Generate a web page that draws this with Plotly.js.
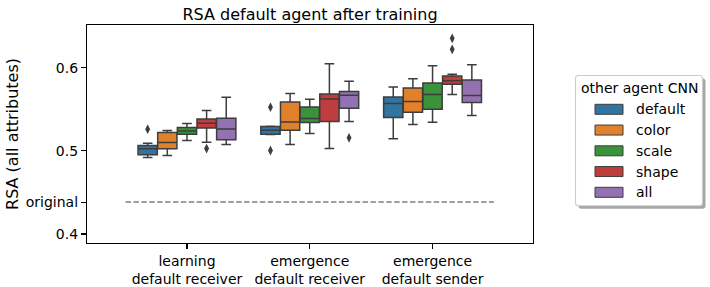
<!DOCTYPE html>
<html>
<head>
<meta charset="utf-8">
<script src="https://cdn.plot.ly/plotly-3.0.1.min.js"></script>
<style>html,body{margin:0;padding:0;background:#fff;}#chart{width:710px;height:287px;}</style>
</head>
<body>
<div id="chart"></div>
<script>
// ---- data ----
const categories = ['learning<br>default receiver', 'emergence<br>default receiver', 'emergence<br>default sender'];
const hues = ['default', 'color', 'scale', 'shape', 'all'];
const hueColors = ['#3274a1', '#e1812c', '#3a923a', '#c03d3e', '#9372b2'];
const legendTitle = 'other agent CNN';

// per hue: values for the three categories
const lowerFence = [
  [0.4920, 0.5195, 0.5144],
  [0.4944, 0.5076, 0.5316],
  [0.5124, 0.5208, 0.5344],
  [0.5104, 0.5028, 0.5676],
  [0.5076, 0.5352, 0.5424]
];
const q1Values = [
  [0.4952, 0.5200, 0.5400],
  [0.5024, 0.5249, 0.5464],
  [0.5200, 0.5340, 0.5500],
  [0.5276, 0.5352, 0.5800],
  [0.5132, 0.5513, 0.5580]
];
const medianValues = [
  [0.5024, 0.5249, 0.5568],
  [0.5100, 0.5348, 0.5592],
  [0.5240, 0.5388, 0.5676],
  [0.5333, 0.5624, 0.5844],
  [0.5264, 0.5669, 0.5664]
];
const q3Values = [
  [0.5064, 0.5292, 0.5648],
  [0.5220, 0.5588, 0.5756],
  [0.5280, 0.5528, 0.5816],
  [0.5384, 0.5684, 0.5900],
  [0.5392, 0.5712, 0.5852]
];
const upperFence = [
  [0.5092, 0.5295, 0.5768],
  [0.5244, 0.5688, 0.5868],
  [0.5328, 0.5621, 0.6024],
  [0.5484, 0.6048, 0.5921],
  [0.5645, 0.5837, 0.6036]
];
// outliers
const outlierHue = [0, 0, 0, 3, 3, 3, 4];
const outlierCat = [0, 1, 1, 0, 2, 2, 1];
const outlierValue = [0.5260, 0.5525, 0.5004, 0.5028, 0.6353, 0.6221, 0.5156];

const originalValue = 0.4384;
const originalSpan = [-0.5, 2.5];
const yTickVals = [0.4, originalValue, 0.5, 0.6];
const yTickText = ['0.4', 'original', '0.5', '0.6'];

// ---- layout helpers (seaborn-style dodge) ----
const groupWidth = 0.8;
const slot = groupWidth / hues.length;
const boxWidth = slot * 0.98;
const pos = (c, h) => c + (h - (hues.length - 1) / 2) * slot;
const lineGray = '#3d3d3d';

const traces = [];
traces.push({
  type: 'scatter', mode: 'lines',
  x: originalSpan, y: [originalValue, originalValue],
  line: {color: '#808080', width: 1.5, dash: '5.5px,2.4px'},
  showlegend: false, hoverinfo: 'skip'
});
hues.forEach((name, h) => {
  traces.push({
    type: 'box', name: name, orientation: 'v',
    x: categories.map((_, c) => pos(c, h)),
    q1: q1Values[h], median: medianValues[h], q3: q3Values[h],
    lowerfence: lowerFence[h], upperfence: upperFence[h],
    width: boxWidth, whiskerwidth: 0.5,
    fillcolor: hueColors[h],
    line: {color: lineGray, width: 1.5},
    boxpoints: false, hoverinfo: 'skip', showlegend: false
  });
});
traces.push({
  type: 'scatter', mode: 'markers',
  x: outlierValue.map((_, i) => pos(outlierCat[i], outlierHue[i])),
  y: outlierValue,
  marker: {symbol: 'diamond-tall', size: 7, color: lineGray, line: {width: 0}},
  showlegend: false, hoverinfo: 'skip'
});

// ---- matplotlib-style legend (frame with shadow) built from hues/hueColors ----
const M = {l: 87, r: 177, t: 25, b: 44};
const W = 710, H = 287;
const pw = W - M.l - M.r, ph = H - M.t - M.b;
const px = v => (v - M.l) / pw;
const py = v => 1 - (v - M.t) / ph;
function roundRect(x0, y0, x1, y1, r) {
  const P = (a, b) => px(a).toFixed(5) + ',' + py(b).toFixed(5);
  return 'M' + P(x0 + r, y0) + ' L' + P(x1 - r, y0) + ' Q' + P(x1, y0) + ' ' + P(x1, y0 + r) +
         ' L' + P(x1, y1 - r) + ' Q' + P(x1, y1) + ' ' + P(x1 - r, y1) +
         ' L' + P(x0 + r, y1) + ' Q' + P(x0, y1) + ' ' + P(x0, y1 - r) +
         ' L' + P(x0, y0 + r) + ' Q' + P(x0, y0) + ' ' + P(x0 + r, y0) + ' Z';
}
const LG = {x0: 575.5, x1: 702.5, y0: 75.5, y1: 205.7, titleY: 88.3, firstY: 109.3, step: 20.75,
            patchX0: 595, patchX1: 623, patchH: 10, textX: 634};
const shapes = [
  {type: 'path', xref: 'paper', yref: 'paper', layer: 'above',
   path: roundRect(LG.x0 + 3, LG.y0 + 3, LG.x1 + 3, LG.y1 + 3, 3),
   fillcolor: '#a6a6a6', line: {width: 0}},
  {type: 'path', xref: 'paper', yref: 'paper', layer: 'above',
   path: roundRect(LG.x0, LG.y0, LG.x1, LG.y1, 3),
   fillcolor: '#ffffff', line: {color: '#cccccc', width: 1.1}}
];
const annotations = [
  {xref: 'paper', yref: 'paper', x: px((LG.x0 + LG.x1) / 2), y: py(LG.titleY), xanchor: 'center', yanchor: 'middle',
   text: legendTitle, showarrow: false, font: {family: 'DejaVu Sans, sans-serif', size: 14, color: '#000'}}
];
hues.forEach((name, h) => {
  const cy = LG.firstY + h * LG.step;
  shapes.push({type: 'rect', xref: 'paper', yref: 'paper', layer: 'above',
    x0: px(LG.patchX0), x1: px(LG.patchX1), y0: py(cy - LG.patchH / 2), y1: py(cy + LG.patchH / 2),
    fillcolor: hueColors[h], line: {color: lineGray, width: 1}});
  annotations.push({xref: 'paper', yref: 'paper', x: px(LG.textX), y: py(cy), xanchor: 'left', yanchor: 'middle',
    text: name, showarrow: false, font: {family: 'DejaVu Sans, sans-serif', size: 14, color: '#000'}});
});

const font = {family: 'DejaVu Sans, sans-serif', size: 14, color: '#000'};
const layout = {
  width: W, height: H,
  margin: {l: M.l, r: M.r, t: M.t, b: M.b, pad: 0},
  paper_bgcolor: '#fff', plot_bgcolor: '#fff',
  font: font,
  hovermode: false,
  showlegend: false,
  title: {text: 'RSA default agent after training', font: {family: font.family, size: 16, color: '#000'},
          x: 0.5, xref: 'paper', xanchor: 'center', y: 1, yref: 'paper', yanchor: 'bottom', pad: {b: 5}},
  xaxis: {
    range: [-0.814, 2.818], tickvals: [0, 1, 2], ticktext: categories,
    showgrid: false, zeroline: false, showline: true, mirror: true, linecolor: '#000', linewidth: 1.1,
    ticks: 'outside', ticklen: 5, tickwidth: 1.1, tickcolor: '#000', tickfont: font
  },
  yaxis: {
    range: [0.3892, 0.6513], tickvals: yTickVals, ticktext: yTickText,
    showgrid: false, zeroline: false, showline: true, mirror: true, linecolor: '#000', linewidth: 1.1,
    ticks: 'outside', ticklen: 5, tickwidth: 1.1, tickcolor: '#000', tickfont: font,
    title: {text: 'RSA (all attributes)', font: {family: font.family, size: 16, color: '#000'}, standoff: 3}
  },
  shapes: shapes,
  annotations: annotations
};
Plotly.newPlot('chart', traces, layout, {displayModeBar: false, staticPlot: true});
</script>
</body>
</html>
